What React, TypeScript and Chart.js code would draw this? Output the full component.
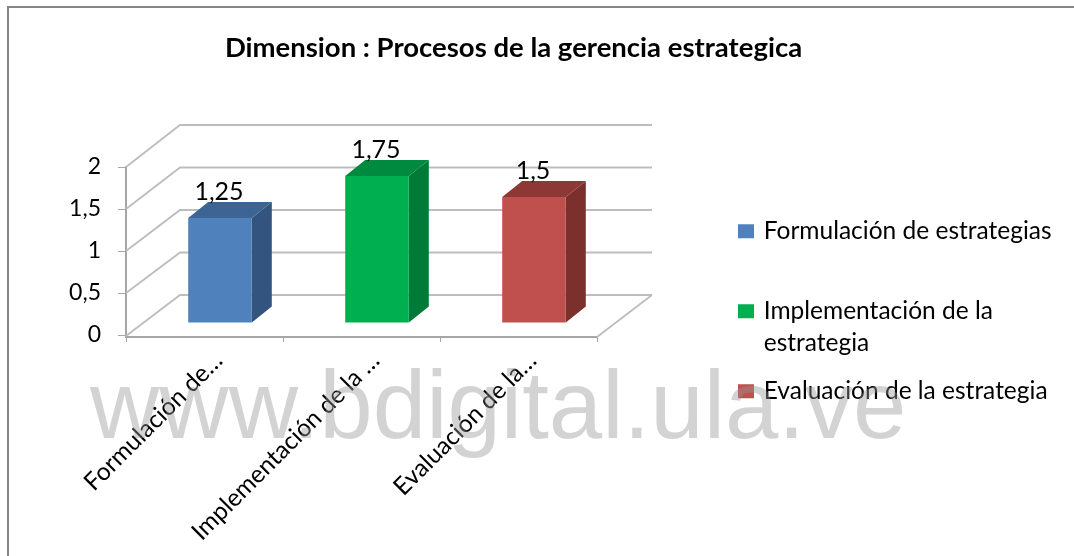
import React, { useEffect, useRef } from "react";
import { Chart, registerables } from "chart.js";

Chart.register(...registerables);

const TITLE = "Dimension : Procesos de la gerencia estrategica";
const WATERMARK = "www.bdigital.ula.ve";
const tickLabels = ["Formulación de…", "Implementación de la …", "Evaluación de la…"];
const legendLabels: (string | string[])[] = [
  ["Formulación de estrategias", ""],
  ["Implementación de la", "estrategia"],
  "Evaluación de la estrategia",
];
const values = [1.25, 1.75, 1.5];
const valueLabels = ["1,25", "1,75", "1,5"];
const yTicks = [0, 0.5, 1, 1.5, 2];
const frontColors = ["#4F81BD", "#00B050", "#C0504D"];
const topColors = ["#3C6494", "#008A3F", "#8E3835"];
const sideColors = ["#33547E", "#007A37", "#7C302E"];

const FONT = "Lato, 'Open Sans', sans-serif";
const INK = "#000000";
const DEPTH_X = 54;
const DEPTH_Y = 42;
const BAR_DX = 15.5;
const BAR_DY = -12;
const BAR_DEPTH_X = 20;
const BAR_DEPTH_Y = 16;

const plugin3d = {
  id: "plugin3d",
  beforeLayout(chart: any) {
    const legend = chart.legend;
    if (legend && !legend.__wrapped) {
      const fit = legend.fit;
      legend.fit = function () {
        fit.call(this);
        this.width = 477;
      };
      legend.__wrapped = true;
    }
  },
  afterLayout(chart: any) {
    const legend = chart.legend;
    legend.left = 724.5;
    legend.right = 1074;
    legend.top = 203;
    legend.bottom = 556;
    const title = chart.titleBlock;
    title.right = 1027;
  },
  beforeDatasetsDraw(chart: any) {
    const { ctx, chartArea } = chart;
    const y = chart.scales.y;
    const backY = (v: number) =>
      chartArea.top - DEPTH_Y + ((y.getPixelForValue(v) - chartArea.top) * 85) / 84;
    const left = chartArea.left;
    const right = chartArea.right;
    const bottom = chartArea.bottom;
    ctx.save();
    ctx.strokeStyle = "#BDBDBD";
    ctx.lineWidth = 1.8;
    ctx.beginPath();
    yTicks.forEach((v) => {
      const py = y.getPixelForValue(v);
      ctx.moveTo(left, v === 0 ? bottom - 1 : py);
      ctx.lineTo(left + DEPTH_X, backY(v));
      ctx.lineTo(right + DEPTH_X + 1, backY(v));
    });
    ctx.moveTo(right, bottom);
    ctx.lineTo(right + DEPTH_X + 1, backY(0));
    ctx.stroke();
    ctx.restore();
  },
  beforeDatasetDraw(chart: any) {
    const ctx = chart.ctx;
    ctx.save();
    ctx.translate(BAR_DX, BAR_DY);
    chart.getDatasetMeta(0).data.forEach((bar: any, i: number) => {
      const half = bar.width / 2;
      const l = bar.x - half;
      const r = bar.x + half;
      ctx.fillStyle = sideColors[i];
      ctx.beginPath();
      ctx.moveTo(r, bar.y);
      ctx.lineTo(r + BAR_DEPTH_X, bar.y - BAR_DEPTH_Y);
      ctx.lineTo(r + BAR_DEPTH_X, bar.base - BAR_DEPTH_Y);
      ctx.lineTo(r, bar.base);
      ctx.closePath();
      ctx.fill();
      ctx.fillStyle = topColors[i];
      ctx.beginPath();
      ctx.moveTo(l, bar.y);
      ctx.lineTo(l + BAR_DEPTH_X, bar.y - BAR_DEPTH_Y);
      ctx.lineTo(r + BAR_DEPTH_X, bar.y - BAR_DEPTH_Y);
      ctx.lineTo(r, bar.y);
      ctx.closePath();
      ctx.fill();
    });
  },
  afterDatasetDraw(chart: any) {
    chart.ctx.restore();
  },
  afterDatasetsDraw(chart: any) {
    const ctx = chart.ctx;
    ctx.save();
    ctx.font = `25px ${FONT}`;
    ctx.fillStyle = INK;
    ctx.textAlign = "center";
    ctx.textBaseline = "middle";
    chart.getDatasetMeta(0).data.forEach((bar: any, i: number) => {
      ctx.fillText(valueLabels[i], bar.x + BAR_DX - 1, bar.y + BAR_DY - 26);
    });
    ctx.restore();
  },
  afterDraw(chart: any) {
    const ctx = chart.ctx;
    ctx.save();
    // outer frame
    ctx.strokeStyle = "#868686";
    ctx.lineWidth = 2;
    ctx.beginPath();
    ctx.moveTo(8, 556);
    ctx.lineTo(8, 7);
    ctx.lineTo(1074, 7);
    ctx.stroke();
    // watermark
    ctx.font = "96px 'Liberation Sans', Arial, sans-serif";
    ctx.fillStyle = "rgba(150,150,150,0.42)";
    ctx.textAlign = "left";
    ctx.textBaseline = "alphabetic";
    ctx.fillText(WATERMARK, 90, 438);
    ctx.restore();
  },
};

export default function App() {
  const ref = useRef<HTMLCanvasElement | null>(null);
  useEffect(() => {
    if (!ref.current) return;
    const chart = new Chart(ref.current, {
      type: "bar",
      data: {
        labels: tickLabels,
        datasets: [
          {
            data: values,
            backgroundColor: frontColors,
            barPercentage: 0.405,
            categoryPercentage: 1,
          },
        ],
      },
      options: {
        responsive: false,
        animation: false,
        clip: false,
        layout: { autoPadding: false, padding: 0 },
        plugins: {
          tooltip: { enabled: false },
          title: {
            display: true,
            text: TITLE,
            color: INK,
            font: { family: FONT, size: 27.5, weight: "bold", lineHeight: 1.2 },
            padding: { top: 32, bottom: 102 },
          },
          legend: {
            display: true,
            position: "right",
            align: "start",
            labels: {
              boxWidth: 11,
              boxHeight: 9,
              padding: 16,
              color: INK,
              font: { family: FONT, size: 24.5, lineHeight: 1.306 },
              generateLabels: () =>
                legendLabels.map((text, i) => ({
                  text,
                  fillStyle: frontColors[i],
                  strokeStyle: frontColors[i],
                  lineWidth: 5,
                  index: i,
                  fontColor: INK,
                })),
            },
          },
        },
        scales: {
          x: {
            afterFit: (s: any) => {
              s.height = 219;
            },
            border: { display: true, color: "#A6A6A6", width: 2 },
            grid: { drawOnChartArea: false, drawTicks: true, tickLength: 5, color: "#A6A6A6", offset: true },
            ticks: {
              color: INK,
              font: { family: FONT, size: 24.5 },
              minRotation: 45,
              maxRotation: 45,
              labelOffset: 14,
              padding: 4,
              autoSkip: false,
            },
          },
          y: {
            min: -0.0238,
            max: 2,
            afterFit: (s: any) => {
              s.width = 126;
            },
            afterBuildTicks: (s: any) => {
              s.ticks = yTicks.map((value) => ({ value }));
            },
            border: { display: true, color: "#A6A6A6", width: 2 },
            grid: { drawOnChartArea: false, drawTicks: true, tickLength: 8, color: "#A6A6A6" },
            ticks: {
              color: INK,
              font: { family: FONT, size: 23 },
              padding: 17,
              callback: (v: any) => String(v).replace(".", ","),
            },
          },
        },
      },
      plugins: [plugin3d],
    } as any);
    return () => chart.destroy();
  }, []);
  return (
    <div style={{ position: "absolute", left: 0, top: 0, width: 1074, height: 556, background: "#fff" }}>
      <canvas
        ref={ref}
        width={1074}
        height={556}
        style={{ display: "block", width: 1074, height: 556, filter: "blur(0.4px)" }}
      />
    </div>
  );
}
